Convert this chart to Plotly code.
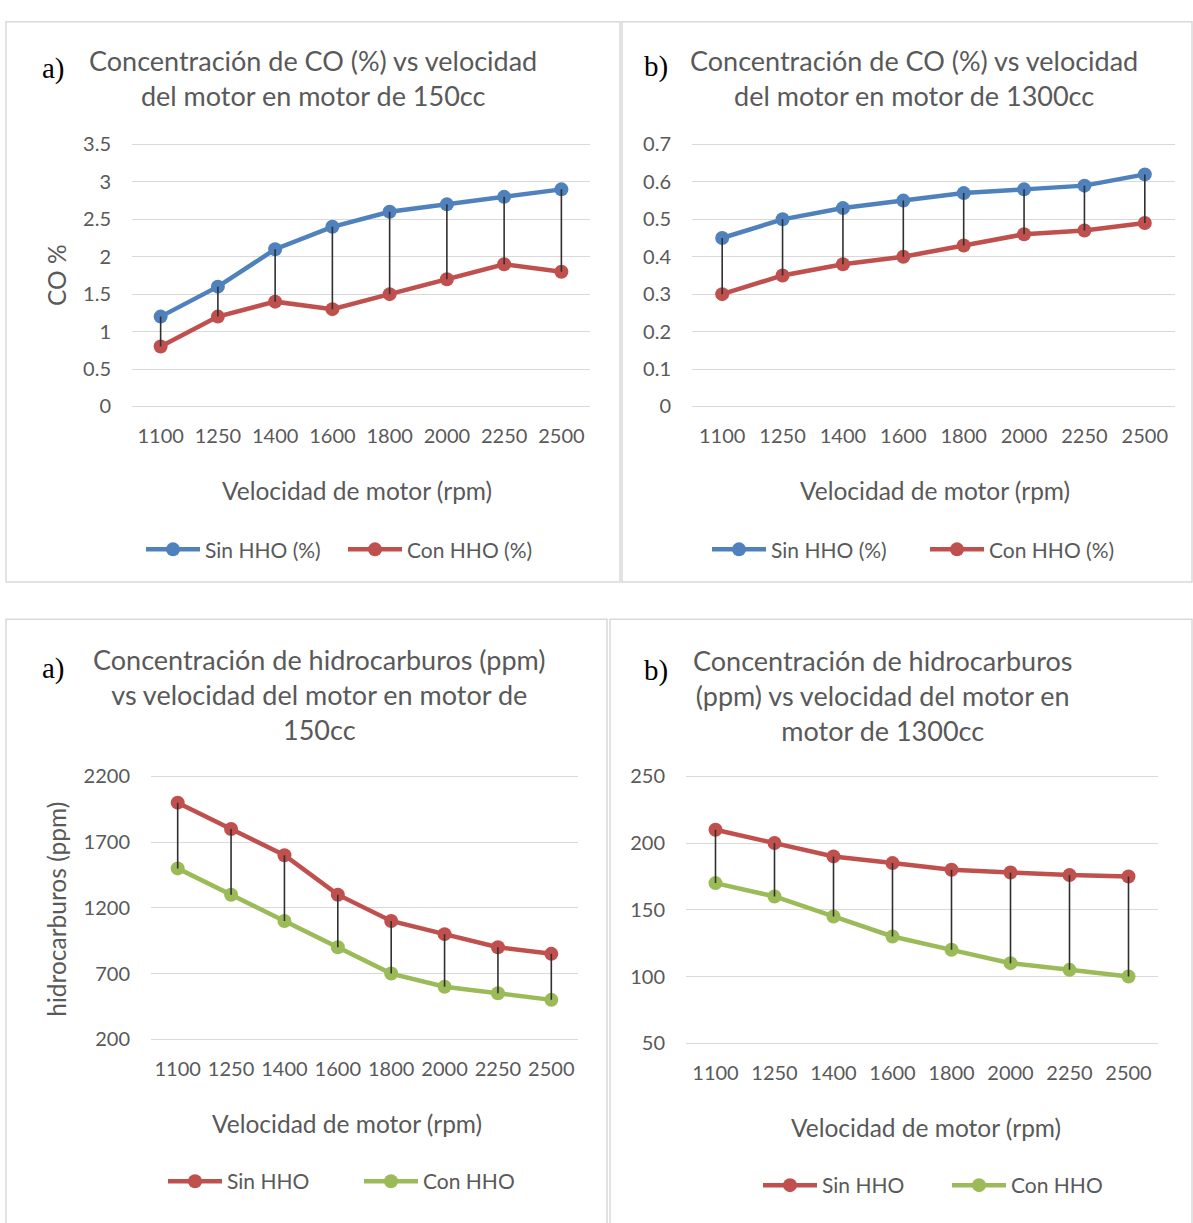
import plotly.graph_objects as go

W, H = 1193, 1223

# Engine speeds shared by all four panels
rpm = ["1100", "1250", "1400", "1600", "1800", "2000", "2250", "2500"]

# CO concentration (%) - 150cc engine
co150_sin = [1.2, 1.6, 2.1, 2.4, 2.6, 2.7, 2.8, 2.9]
co150_con = [0.8, 1.2, 1.4, 1.3, 1.5, 1.7, 1.9, 1.8]

# CO concentration (%) - 1300cc engine
co1300_sin = [0.45, 0.50, 0.53, 0.55, 0.57, 0.58, 0.59, 0.62]
co1300_con = [0.30, 0.35, 0.38, 0.40, 0.43, 0.46, 0.47, 0.49]

# Hydrocarbons (ppm) - 150cc engine
hc150_sin = [2000, 1800, 1600, 1300, 1100, 1000, 900, 850]
hc150_con = [1500, 1300, 1100, 900, 700, 600, 550, 500]

# Hydrocarbons (ppm) - 1300cc engine
hc1300_sin = [210, 200, 190, 185, 180, 178, 176, 175]
hc1300_con = [170, 160, 145, 130, 120, 110, 105, 100]

BLUE = "#4F81BD"
RED = "#C0504D"
GREEN = "#9BBB59"
GREY_TXT = "#595959"
GRID = "#D9D9D9"
FONT = "Lato"


def px(x):
    return x / W


def py(y):
    return 1 - y / H


# panel definitions: pixel geometry of plot areas
panels = [
    dict(ax="", sin=co150_sin, con=co150_con, c1=BLUE, c2=RED,
         n1="Sin HHO (%)", n2="Con HHO (%)",
         xd=(132, 590), yd=(135, 402), yr=(0, 3.5), dt=0.5,
         leg="legend", legxy=(146, 548), entry=133),
    dict(ax="2", sin=co1300_sin, con=co1300_con, c1=BLUE, c2=RED,
         n1="Sin HHO (%)", n2="Con HHO (%)",
         xd=(692, 1175), yd=(135, 402), yr=(0, 0.7), dt=0.1,
         leg="legend2", legxy=(712, 548), entry=149),
    dict(ax="3", sin=hc150_sin, con=hc150_con, c1=RED, c2=GREEN,
         n1="Sin HHO", n2="Con HHO",
         xd=(151, 578), yd=(779, 1047), yr=(200, 2200), dt=500,
         leg="legend3", legxy=(168, 1192), entry=127),
    dict(ax="4", sin=hc1300_sin, con=hc1300_con, c1=RED, c2=GREEN,
         n1="Sin HHO", n2="Con HHO",
         xd=(686, 1158), yd=(779, 1051), yr=(50, 250), dt=50,
         leg="legend4", legxy=(763, 1196), entry=120),
]

fig = go.Figure()
layout = dict(
    width=W, height=H,
    margin=dict(l=0, r=0, t=0, b=0),
    paper_bgcolor="white", plot_bgcolor="white",
    font=dict(family=FONT, color=GREY_TXT, size=20),
    shapes=[], annotations=[],
)

for p in panels:
    xa = "x" + p["ax"]
    ya = "y" + p["ax"]
    common = dict(xaxis=xa, yaxis=ya, mode="lines+markers",
                  line=dict(width=4.5), marker=dict(size=14, symbol="circle"),
                  legend=p["leg"], hoverinfo="x+y")
    fig.add_trace(go.Scatter(x=rpm, y=p["sin"], name=p["n1"],
                             line_color=p["c1"], marker_color=p["c1"], **common))
    fig.add_trace(go.Scatter(x=rpm, y=p["con"], name=p["n2"],
                             line_color=p["c2"], marker_color=p["c2"], **common))
    # high-low connectors between the two series
    hx, hy = [], []
    for c, a, b in zip(rpm, p["sin"], p["con"]):
        hx += [c, c, None]
        hy += [a, b, None]
    fig.add_trace(go.Scatter(x=hx, y=hy, xaxis=xa, yaxis=ya, mode="lines",
                             line=dict(color="#303030", width=1.6),
                             showlegend=False, hoverinfo="skip"))

    # pad the value range a hair so the top gridline is drawn
    lo, hi = p["yr"]
    span = hi - lo
    pad = span * 0.004
    top_px = p["yd"][0] - pad / span * (p["yd"][1] - p["yd"][0])

    xkey = "xaxis" + p["ax"]
    ykey = "yaxis" + p["ax"]
    layout[xkey] = dict(
        domain=[px(p["xd"][0]), px(p["xd"][1])], anchor=ya, type="category",
        range=[-0.5, 7.5], showgrid=False, showline=True, linecolor=GRID,
        linewidth=1, ticks="", ticklabelstandoff=12,
        tickfont=dict(size=20, color=GREY_TXT, family=FONT), fixedrange=True,
    )
    layout[ykey] = dict(
        domain=[py(p["yd"][1]), py(top_px)], anchor=xa,
        range=[lo, hi + pad], dtick=p["dt"], tick0=lo, showgrid=True,
        gridcolor=GRID, gridwidth=1, zeroline=False, showline=False, ticks="",
        ticklabelstandoff=20,
        tickfont=dict(size=20, color=GREY_TXT, family=FONT), fixedrange=True,
    )
    layout[p["leg"]] = dict(
        orientation="h", x=px(p["legxy"][0] - 5), y=py(p["legxy"][1]),
        xanchor="left", yanchor="middle", bgcolor="rgba(0,0,0,0)",
        font=dict(size=21, color=GREY_TXT, family=FONT),
        entrywidth=p["entry"], itemwidth=54, traceorder="normal",
    )

# panel frames
frames = [(6, 10, 620, 581), (622, 10, 1192, 581), (6, 619, 607, 1240), (610, 619, 1192, 1240)]
for x0, y0, x1, y1 in frames:
    layout["shapes"].append(dict(type="rect", xref="paper", yref="paper",
                                 x0=px(x0), x1=px(x1), y0=py(y1), y1=py(y0),
                                 line=dict(color=GRID, width=1.5), layer="below"))

# chart titles
titles = [
    ("Concentración de CO (%) vs velocidad<br>del motor en motor de 150cc", 313, 67),
    ("Concentración de CO (%) vs velocidad<br>del motor en motor de 1300cc", 914, 67),
    ("Concentración de hidrocarburos (ppm)<br>vs velocidad del motor en motor de<br>150cc", 319, 696),
    ("Concentración de hidrocarburos<br>(ppm) vs velocidad del motor en<br>motor de 1300cc", 882, 697),
]
for t, cx, cy in titles:
    layout["annotations"].append(dict(text=t, xref="paper", yref="paper", x=px(cx), y=py(cy),
                                      xanchor="center", yanchor="middle", showarrow=False,
                                      font=dict(size=27, color=GREY_TXT, family=FONT)))

# panel tags
for t, cx, cy in [("a)", 53, 58), ("b)", 656, 56), ("a)", 53, 669), ("b)", 656, 671)]:
    layout["annotations"].append(dict(text=t, xref="paper", yref="paper", x=px(cx), y=py(cy),
                                      xanchor="center", yanchor="middle", showarrow=False,
                                      font=dict(size=29, color="black", family="Liberation Serif")))

# axis titles
for cx, cy in [(357, 488), (935, 488), (347, 1133), (926, 1137)]:
    layout["annotations"].append(dict(text="Velocidad de motor (rpm)", xref="paper", yref="paper",
                                      x=px(cx), y=py(cy), xanchor="center", yanchor="middle",
                                      showarrow=False, font=dict(size=24.5, color=GREY_TXT, family=FONT)))
for t, cx, cy in [("CO %", 57, 268), ("hidrocarburos (ppm)", 57, 915)]:
    layout["annotations"].append(dict(text=t, xref="paper", yref="paper", x=px(cx), y=py(cy),
                                      xanchor="center", yanchor="middle", textangle=-90,
                                      showarrow=False, font=dict(size=24.5, color=GREY_TXT, family=FONT)))

fig.update_layout(**layout)
fig.write_html("out.html")
